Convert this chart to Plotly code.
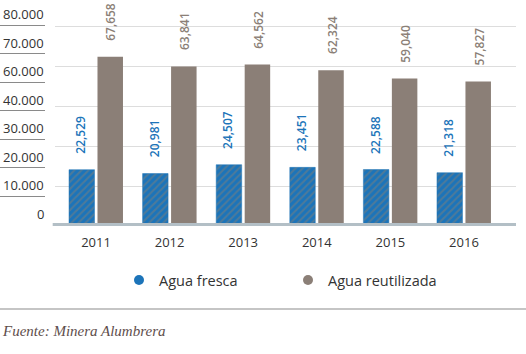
import plotly.graph_objects as go

years = ["2011", "2012", "2013", "2014", "2015", "2016"]
agua_fresca = [22529, 20981, 24507, 23451, 22588, 21318]
agua_reutilizada = [67658, 63841, 64562, 62324, 59040, 57827]
left_labels = ["0", "10.000", "20.000", "30.000", "40.000", "60.000", "70.000", "80.000"]
series_names = ["Agua fresca", "Agua reutilizada"]
source_text = "Fuente: Minera Alumbrera"

BLUE = "#1c74b9"
GRAY = "#8b7f77"
W, H = 526, 354
T, B = 20, 128
PH = H - T - B  # plot height in px
PX0, PX1 = 55, 516

def fmt(v):
    return f"{v:,}"

fig = go.Figure()
fig.add_trace(go.Bar(
    x=years, y=agua_fresca, name=series_names[0], showlegend=False,
    marker=dict(color=BLUE, line=dict(color=BLUE, width=0.5),
                pattern=dict(shape="/", fgcolor="#80807a", bgcolor=BLUE,
                             size=5, solidity=0.4)),
))
fig.add_trace(go.Bar(
    x=years, y=agua_reutilizada, name=series_names[1], showlegend=False,
    marker=dict(color=GRAY, line=dict(width=0)),
))
# legend entries with circle markers
for nm, col in zip(series_names, [BLUE, GRAY]):
    fig.add_trace(go.Scatter(x=[None], y=[None], mode="markers", name=nm,
                             marker=dict(symbol="circle", size=10, color=col)))
# left label axis subplot
fig.add_trace(go.Scatter(x=[None], y=[None], xaxis="x2", yaxis="y2",
                         showlegend=False, hoverinfo="skip"))

# value labels
for i, v in enumerate(agua_fresca):
    fig.add_annotation(x=i, y=v, xref="x", yref="y", text=fmt(v), showarrow=False,
                       textangle=-90, yanchor="bottom", xshift=-15, yshift=14,
                       font=dict(family="Open Sans", size=12, color=BLUE, weight=600))
for i, v in enumerate(agua_reutilizada):
    fig.add_annotation(x=i, y=v, xref="x", yref="y", text=fmt(v), showarrow=False,
                       textangle=-90, yanchor="bottom", xshift=15, yshift=14,
                       font=dict(family="Open Sans", size=12, color=GRAY, weight=600))

# left labels above their underlines
for i, lab in enumerate(left_labels):
    fig.add_annotation(x=1, y=i, xref="x2 domain", yref="y2", text=lab, showarrow=False,
                       xanchor="right", yanchor="bottom", yshift=0, xshift=1,
                       font=dict(family="Open Sans", size=13, color="#333333"))

# baseline band
fig.add_shape(type="line", xref="x domain", yref="y", x0=-0.005, x1=1, y0=0, y1=0,
              line=dict(color="#b3bfc6", width=6), layer="above")
# footer line
fig.add_shape(type="line", xref="paper", yref="paper", x0=0, x1=1,
              y0=(226 - 309) / PH, y1=(226 - 309) / PH,
              line=dict(color="#8c8c8c", width=1.2))
fig.add_annotation(x=0, y=(226 - 331) / PH, xref="paper", yref="paper",
                   xanchor="left", yanchor="middle", showarrow=False, text=source_text,
                   font=dict(family="Liberation Serif", size=15, color="#5e4e4c",
                             style="italic"))

ymax = 80000 * PH / 200
fig.update_layout(
    width=W, height=H,
    margin=dict(l=0, r=0, t=T, b=B, pad=0),
    paper_bgcolor="white", plot_bgcolor="white",
    barmode="group", bargap=0.226, bargroupgap=0.105,
    font=dict(family="Open Sans", color="#333333"),
    xaxis=dict(type="category", domain=[PX0 / W, PX1 / W], range=[-0.557, 5.707],
               showgrid=False, showline=False, zeroline=False, ticks="",
               tickfont=dict(size=13, color="#333333"), ticklabelstandoff=7),
    yaxis=dict(range=[0, ymax], tick0=0, dtick=16000, showgrid=True,
               gridcolor="#dddddd", gridwidth=1, zeroline=False,
               showticklabels=False, ticks=""),
    xaxis2=dict(domain=[0, 45 / W], anchor="y2", range=[0, 1], visible=False),
    yaxis2=dict(anchor="x2", domain=[0, 1], side="right",
                range=[-1 / 28.57, -1 / 28.57 + PH / 28.57],
                tickvals=list(range(len(left_labels))),
                showticklabels=False, showgrid=True, gridcolor="#8a8a8a",
                gridwidth=1, zeroline=False, showline=False, ticks=""),
    legend=dict(orientation="h", x=(119 - 0) / W, y=(226 - 280) / PH,
                xanchor="left", yanchor="middle", xref="paper",
                entrywidth=124, entrywidthmode="pixels",
                font=dict(size=14.5, color="#333333"), bgcolor="rgba(0,0,0,0)"),
    showlegend=True,
)

fig.write_html("out.html")
